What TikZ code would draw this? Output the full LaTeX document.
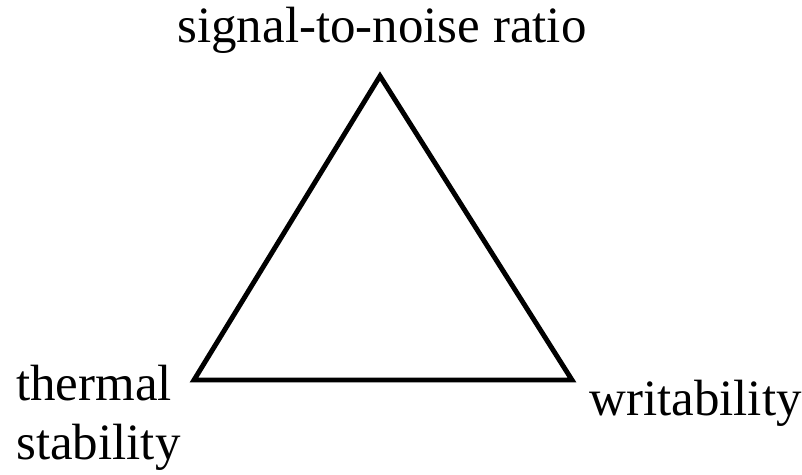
\documentclass[tikz,border=0pt]{standalone}
\usepackage{fontspec}
\setmainfont{Liberation Serif}
\usetikzlibrary{positioning}

\begin{document}
\begin{tikzpicture}[x=0.02cm, y=-0.02cm,
  etiqueta/.style={inner sep=0pt, font=\fontsize{29}{34}\selectfont},
  lado/.style={line width=2.8pt, line join=miter}]
  \useasboundingbox (0,0) rectangle (802,474);
  % vertices del triangulo
  \coordinate (snr) at (380,76);
  \coordinate (ter) at (194,380);
  \coordinate (esc) at (572,380);
  \draw[lado] (snr) -- (ter) -- (esc) -- cycle;
  % etiquetas
  \node[etiqueta, anchor=base] (lsnr) at (382,42) {signal-to-noise ratio};
  \node[etiqueta, anchor=base west] (lter) at (16,400) {thermal};
  \node[etiqueta, anchor=base west] (lest) at (16,459) {stability};
  \node[etiqueta, anchor=base west] (lesc) at (589,415) {writability};
\end{tikzpicture}
\end{document}
